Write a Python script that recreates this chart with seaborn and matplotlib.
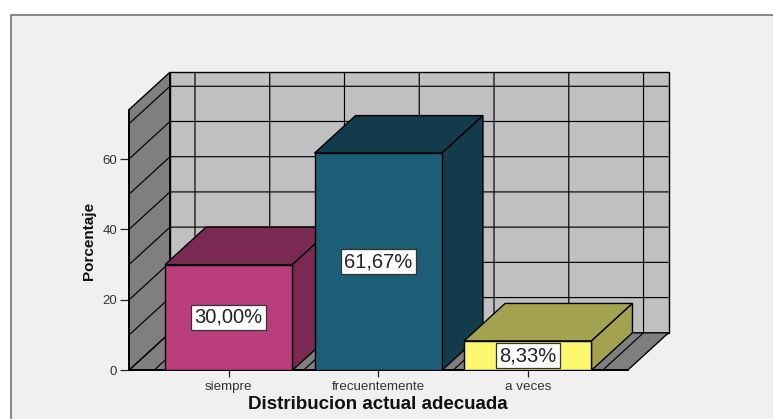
import matplotlib
matplotlib.use("Agg")
from matplotlib import pyplot as plt
from matplotlib.patches import Polygon, Rectangle
import seaborn as sns

categorias = ["siempre", "frecuentemente", "a veces"]
porcentajes = [30.00, 61.67, 8.33]
etiquetas = ["30,00%", "61,67%", "8,33%"]
yticks = [0, 20, 40, 60]
colores = ["#b93e7b", "#1b5e76", "#fbf76f"]
colores_lado = ["#7a2a52", "#123c4b", "#a3a24e"]

sns.set_theme(style="white")
plt.rcParams["font.family"] = ["Liberation Sans", "DejaVu Sans"]

W, H = 773, 419
fig = plt.figure(figsize=(W / 100, H / 100), dpi=100, facecolor="white")

# panel gris de fondo
fig.add_artist(Rectangle((10.5 / W, 0 - 0.02), 1.02, (H - 15.5) / H + 0.02, transform=fig.transFigure,
                         fc="#f0f0f0", ec="#6a6a6a", lw=1.1, zorder=-1))

# plano frontal = ejes, la profundidad se suma en unidades de datos
ax = fig.add_axes([129 / W, (H - 370.3) / H, 498.5 / W, 260.6 / H])
ax.patch.set_visible(False)
xmin, xmax = -0.667, 2.667
ymax = 74
dx = 41 / 149.5
dy = 37.5 / 3.52

sns.barplot(x=categorias, y=porcentajes, hue=categorias, palette=colores, legend=False,
            width=0.852, saturation=1, edgecolor="black", linewidth=1.0, ax=ax)
ax.set_xlim(xmin, xmax)
ax.set_ylim(0, ymax)


def poly(pts, fc, z, lw=1.0):
    ax.add_patch(Polygon(pts, closed=True, fc=fc, ec="black", lw=lw, zorder=z, clip_on=False))


def linea(xs, ys, z=1.5, lw=0.85):
    ax.plot(xs, ys, color="black", lw=lw, zorder=z, clip_on=False, solid_capstyle="butt")


# paredes y suelo
poly([(xmin, 0), (xmin + dx, dy), (xmin + dx, ymax + dy), (xmin, ymax)], "#7f7f7f", 1, lw=1.0)
poly([(xmin + dx, dy), (xmax + dx, dy), (xmax + dx, ymax + dy), (xmin + dx, ymax + dy)], "#c0c0c0", 1)
poly([(xmin, 0), (xmax, 0), (xmax + dx, dy), (xmin + dx, dy)], "#7f7f7f", 1.2)
linea([xmin + dx, xmin + dx], [dy, ymax + dy], z=1.6, lw=1.4)

for v in range(10, 71, 10):
    linea([xmin, xmin + dx, xmax + dx], [v, v + dy, v + dy])
for c in [-0.5, 0, 0.5, 1, 1.5, 2, 2.5]:
    linea([c, c + dx, c + dx], [0, dy, ymax + dy])

# caras de profundidad de cada barra
for i, bar in enumerate(ax.patches[:3]):
    x0 = bar.get_x()
    x1 = x0 + bar.get_width()
    h = porcentajes[i]
    z = 3 + i
    poly([(x0, h), (x1, h), (x1 + dx, h + dy), (x0 + dx, h + dy)], colores_lado[i], z)
    poly([(x1, 0), (x1 + dx, dy), (x1 + dx, h + dy), (x1, h)], colores_lado[i], z)
    bar.set_zorder(z + 0.5)
    ax.text(i, h / 2, etiquetas[i], ha="center", va="center", fontsize=14.5, color="#222222", zorder=10,
            bbox=dict(boxstyle="square,pad=0.16", fc="white", ec="#333333", lw=0.9))

ax.set_yticks(yticks)
ax.set_xticks(range(3))
ax.set_xticklabels(categorias)
ax.tick_params(axis="y", length=6.5, width=0.9, color="#222222", labelsize=9.5, labelcolor="#333333", pad=2,
               left=True)
ax.tick_params(axis="x", length=5, width=0.9, color="#222222", labelsize=9.6, labelcolor="#333333", pad=2.5,
               bottom=True)
sns.despine(ax=ax, top=True, right=True)
for s in ["left", "bottom"]:
    ax.spines[s].set_color("black")
    ax.spines[s].set_linewidth(1.4)
    ax.spines[s].set_zorder(2)

fig.text(378 / W, 1 - 404.5 / H, "Distribucion actual adecuada", ha="center", va="center",
         fontsize=13.5, fontweight="bold", color="#111111")
fig.text(89 / W, 1 - 241 / H, "Porcentaje", ha="center", va="center", rotation=90,
         fontsize=11, fontweight="bold", color="#111111")

fig.savefig("out.png", dpi=100)
